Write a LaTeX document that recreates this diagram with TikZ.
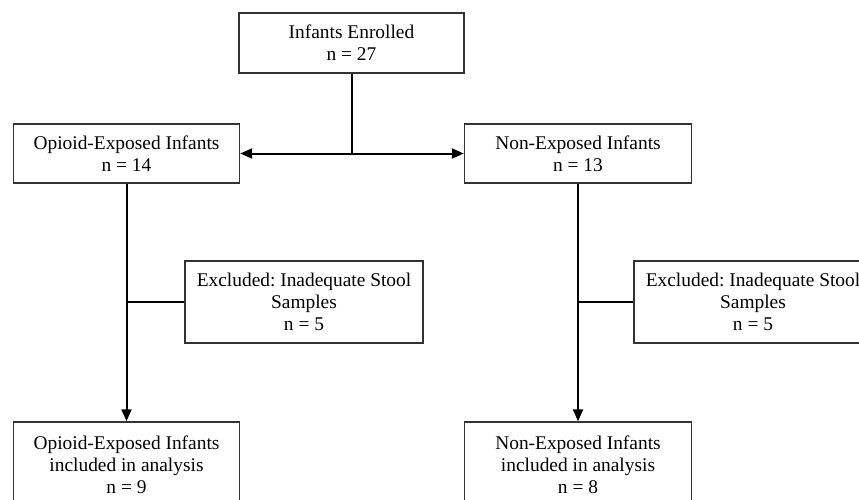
\documentclass[tikz,border=0pt]{standalone}
\usepackage{fontspec}
\setmainfont{Liberation Serif}
\usetikzlibrary{arrows.meta}

\tikzset{
  flowbox/.style={draw=black!80, line width=1.4pt, inner sep=0pt, align=center,
    font=\fontsize{19.4}{21.8}\selectfont},
  flowline/.style={line width=2pt},
  flowarrow/.style={flowline, -{Triangle[length=12pt, width=10pt]}}
}

\begin{document}
\frenchspacing
\begin{tikzpicture}[x=1pt, y=-1pt]
\path[use as bounding box, clip] (0,0) rectangle (859,499);

\node[flowbox, minimum width=225pt, minimum height=60pt] (enrolled) at (351.5,43) {Infants Enrolled\\n = 27};

\node[flowbox, minimum width=226pt, minimum height=59pt] (opioid) at (126.5,153.5) {Opioid-Exposed Infants\\n = 14};
\node[flowbox, minimum width=227pt, minimum height=59pt] (nonexp) at (578,153.5) {Non-Exposed Infants\\n = 13};

\node[flowbox, minimum width=238pt, minimum height=82pt] (exclA) at (304,302) {Excluded: Inadequate Stool\\Samples\\n = 5};
\node[flowbox, minimum width=238pt, minimum height=82pt] (exclB) at (753,302) {Excluded: Inadequate Stool\\Samples\\n = 5};

\node[flowbox, minimum width=226pt, minimum height=86pt] (opioidfin) at (126.5,465) {Opioid-Exposed Infants\\included in analysis\\n = 9};
\node[flowbox, minimum width=227pt, minimum height=86pt] (nonexpfin) at (578,465) {Non-Exposed Infants\\included in analysis\\n = 8};

% split of the enrolled infants
\coordinate (split) at (enrolled.south |- opioid.east);
\draw[flowline] (enrolled.south) -- (split);
\draw[flowarrow] (split) -- (opioid.east);
\draw[flowarrow] (split) -- (nonexp.west);

% exclusions
\draw[flowarrow] (opioid.south) -- (opioidfin.north);
\draw[flowarrow] (nonexp.south) -- (nonexpfin.north);
\draw[flowline] (opioid.south |- exclA.west) -- (exclA.west);
\draw[flowline] (nonexp.south |- exclB.west) -- (exclB.west);

\end{tikzpicture}
\end{document}
